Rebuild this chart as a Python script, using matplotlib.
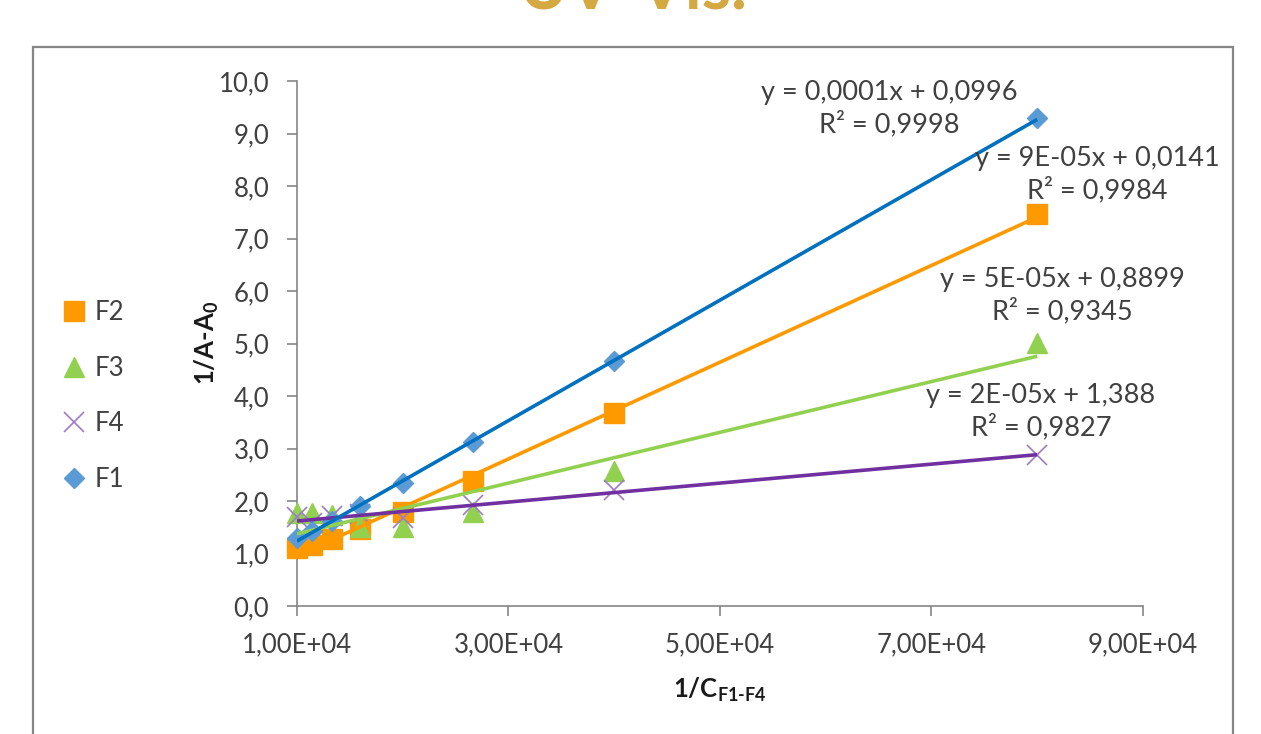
import numpy as np
import matplotlib
matplotlib.use("Agg")
import matplotlib.pyplot as plt
from matplotlib.ticker import FixedLocator, FuncFormatter
from matplotlib.patches import Rectangle
from matplotlib.lines import Line2D

# --- data ---
x_vals = [1.0e4, 1.143e4, 1.333e4, 1.6e4, 2.0e4, 2.667e4, 4.0e4, 8.0e4]
f1_vals = [1.30, 1.42, 1.62, 1.90, 2.35, 3.12, 4.66, 9.29]
f2_vals = [1.10, 1.17, 1.27, 1.47, 1.79, 2.39, 3.67, 7.47]
f3_vals = [1.77, 1.77, 1.73, 1.50, 1.50, 1.79, 2.57, 5.01]
f4_vals = [1.70, 1.58, 1.72, 1.75, 1.68, 1.92, 2.20, 2.88]

eq_texts = {
    "F1": "y = 0,0001x + 0,0996\nR² = 0,9998",
    "F2": "y = 9E-05x + 0,0141\nR² = 0,9984",
    "F3": "y = 5E-05x + 0,8899\nR² = 0,9345",
    "F4": "y = 2E-05x + 1,388\nR² = 0,9827",
}
x_ticks = [1e4, 3e4, 5e4, 7e4, 9e4]
y_ticks = list(range(0, 11))

# --- style ---
plt.rcParams["font.family"] = ["Lato", "DejaVu Sans"]
plt.rcParams["mathtext.fontset"] = "custom"
plt.rcParams["mathtext.rm"] = "Lato:bold"
plt.rcParams["mathtext.bf"] = "Lato:bold"
plt.rcParams["mathtext.it"] = "Lato:bold"

TXT = "#404040"
GRAY = "#868686"
FS = 18.5

fig = plt.figure(figsize=(12.61, 7.34), dpi=100)
ax = fig.add_axes([0.2355, 0.1744, 0.6709, 0.7152])

# outer chart frame and cut-off slide title
fig.patches.append(Rectangle((0.0262, -0.1), 0.9516, 1.036, transform=fig.transFigure,
                             fill=False, edgecolor=GRAY, linewidth=1.6))
fig.text(0.502, 0.988, "UV-Vis.", color="#D5A941", fontsize=48, fontweight="bold",
         ha="center", va="baseline")

series = [
    ("F2", f2_vals, "s", 14, "#FF9900", "#FF9900"),
    ("F3", f3_vals, "^", 14, "#92D050", "#92D050"),
    ("F4", f4_vals, "x", 14, "#9E7BC9", "#7030A0"),
    ("F1", f1_vals, "D", 10, "#5B9BD5", "#0070C0"),
]

x = np.array(x_vals)
handles = []
for name, vals, mk, ms, mcol, lcol in series:
    mew = 1.2 if mk == "x" else 1
    ax.plot(x, vals, linestyle="none", marker=mk, markersize=ms, color=mcol,
            markeredgewidth=mew, clip_on=False, zorder=3)
    handles.append(Line2D([], [], linestyle="none", marker=mk, markersize=ms,
                          color=mcol, markeredgewidth=mew, label=name))

# linear trendlines (on top of markers, like Excel)
for name, vals, mk, ms, mcol, lcol in series:
    k, b = np.polyfit(x, vals, 1)
    xs = np.array([x.min(), x.max()])
    ax.plot(xs, k * xs + b, color=lcol, linewidth=2.6, zorder=4, solid_capstyle="butt")

# equation labels (pixel positions converted to data)
def px2data(px, py):
    return 1e4 + (px - 297) / 105.75 * 1e4, (606 - py) / 52.5

eq_pos = {"F1": (889, 109), "F2": (1097, 175), "F3": (1062, 296), "F4": (1041, 412)}
for name, (px, py) in eq_pos.items():
    tx, ty = px2data(px, py)
    ax.text(tx, ty, eq_texts[name], ha="center", va="center", multialignment="center",
            fontsize=19.5, color=TXT, linespacing=1.25, zorder=5)

# axes
ax.set_xlim(1e4, 9e4)
ax.set_ylim(0, 10)
ax.xaxis.set_major_locator(FixedLocator(x_ticks))
ax.yaxis.set_major_locator(FixedLocator(y_ticks))
ax.xaxis.set_major_formatter(FuncFormatter(lambda v, p: f"{v:.2E}".replace(".", ",")))
ax.yaxis.set_major_formatter(FuncFormatter(lambda v, p: f"{v:.1f}".replace(".", ",")))
ax.tick_params(axis="both", direction="out", length=7, width=1.2, color=GRAY,
               labelsize=FS, labelcolor=TXT)
ax.tick_params(axis="x", pad=12)
ax.tick_params(axis="y", pad=13)
for side in ["top", "right"]:
    ax.spines[side].set_visible(False)
for side in ["left", "bottom"]:
    ax.spines[side].set_color(GRAY)
    ax.spines[side].set_linewidth(1.2)

ax.text(-0.106, 0.501, r"1/A-A$_{\text{0}}$", transform=ax.transAxes, rotation=90,
        ha="center", va="center", fontsize=FS, fontweight="bold", color="#1a1a1a")
ax.text(0.5, -0.16, r"1/C$_{\text{F1-F4}}$", transform=ax.transAxes,
        ha="center", va="center", fontsize=FS, fontweight="bold", color="#1a1a1a")

fig.legend(handles=handles, loc="center left", bbox_to_anchor=(0.038, 0.4605),
           frameon=False, fontsize=FS, labelspacing=1.2, handlelength=1.0,
           handletextpad=0.3, borderpad=0, labelcolor=TXT)

fig.savefig("out.png", dpi=100)
